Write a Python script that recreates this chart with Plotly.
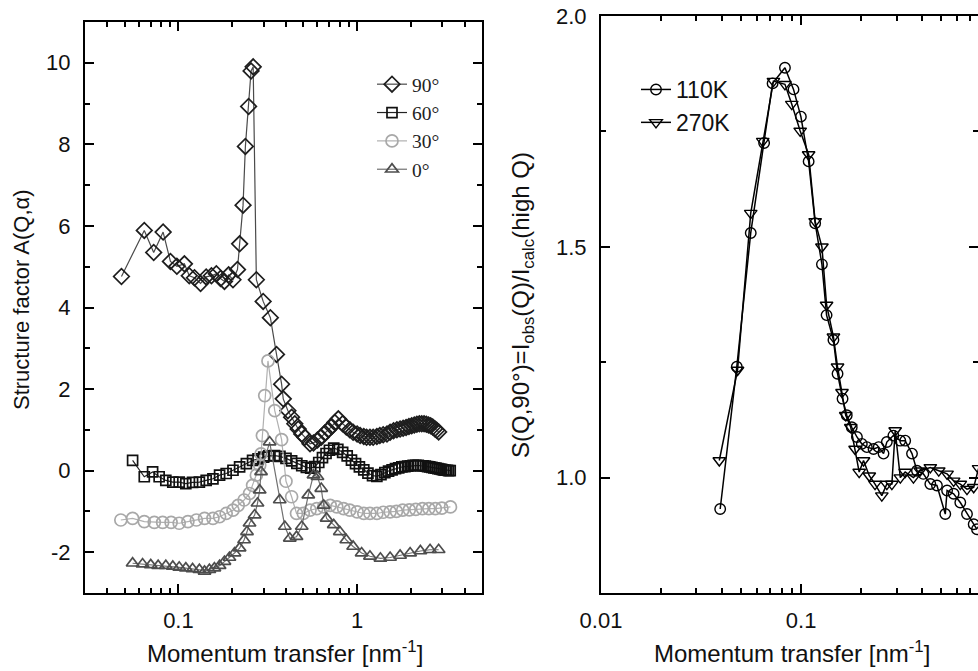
import numpy as np
import plotly.graph_objects as go

# ---------------- Left panel data: Structure factor A(Q, alpha) ----------------
q90 = [0.048, 0.0644, 0.0727, 0.0821, 0.0902, 0.098, 0.108, 0.115, 0.123, 0.133, 0.143,
       0.153, 0.163, 0.172, 0.181, 0.191, 0.202, 0.214, 0.220, 0.230, 0.237, 0.247, 0.255,
       0.262, 0.273, 0.298, 0.327, 0.354, 0.378, 0.386, 0.41, 0.43, 0.448, 0.468, 0.49,
       0.51, 0.545, 0.57, 0.60, 0.63, 0.66, 0.69, 0.72, 0.75, 0.785, 0.83, 0.87, 0.91,
       0.95, 1.0, 1.04, 1.09, 1.13, 1.18, 1.23, 1.29, 1.34, 1.40, 1.47, 1.53, 1.60, 1.67,
       1.74, 1.81, 1.88, 1.95, 2.02, 2.09, 2.16, 2.23, 2.30, 2.37, 2.44, 2.51, 2.58, 2.65,
       2.72, 2.79, 2.86]
a90 = [4.76, 5.89, 5.35, 5.85, 5.13, 5.01, 5.07, 4.78, 4.73, 4.59, 4.75,
       4.78, 4.83, 4.71, 4.64, 4.80, 4.68, 4.93, 5.56, 6.51, 7.95, 8.93, 9.80,
       9.90, 4.68, 4.15, 3.75, 2.85, 2.12, 1.76, 1.47, 1.31, 1.15, 1.02, 0.90,
       0.82, 0.66, 0.68, 0.75, 0.82, 0.92, 1.00, 1.08, 1.18, 1.27, 1.15, 1.07, 1.00,
       0.94, 0.90, 0.86, 0.84, 0.82, 0.82, 0.82, 0.84, 0.86, 0.88, 0.90, 0.94, 0.98, 1.00,
       1.02, 1.04, 1.06, 1.08, 1.10, 1.12, 1.14, 1.15, 1.15, 1.15, 1.14, 1.12, 1.10, 1.07,
       1.03, 0.99, 0.95]

q60 = [0.0554, 0.0644, 0.0717, 0.078, 0.085, 0.093, 0.101, 0.11, 0.12, 0.131, 0.143,
       0.156, 0.17, 0.185, 0.202, 0.22, 0.24, 0.26, 0.279, 0.30, 0.32, 0.345, 0.37, 0.40,
       0.43, 0.46, 0.49, 0.52, 0.55, 0.58, 0.61, 0.64, 0.67, 0.70, 0.74, 0.78, 0.83, 0.88,
       0.93, 0.98, 1.03, 1.09, 1.15, 1.22, 1.29, 1.36, 1.43, 1.50, 1.57, 1.64, 1.71, 1.78,
       1.85, 1.92, 1.99, 2.06, 2.13, 2.20, 2.27, 2.34, 2.41, 2.48, 2.55, 2.62, 2.69, 2.76,
       2.83, 2.90, 2.97, 3.04, 3.11, 3.18, 3.25, 3.32]
a60 = [0.25, -0.15, -0.03, -0.15, -0.24, -0.28, -0.28, -0.32, -0.29, -0.28, -0.24,
       -0.20, -0.11, -0.07, 0.01, 0.09, 0.17, 0.25, 0.29, 0.33, 0.36, 0.37, 0.35, 0.30,
       0.24, 0.18, 0.12, 0.08, 0.06, 0.10, 0.20, 0.32, 0.42, 0.50, 0.55, 0.52, 0.45, 0.36,
       0.26, 0.17, 0.09, 0.02, -0.06, -0.12, -0.14, -0.10, -0.05, -0.01, 0.02, 0.05, 0.07, 0.09,
       0.10, 0.11, 0.12, 0.13, 0.13, 0.13, 0.12, 0.12, 0.11, 0.10, 0.09, 0.08, 0.07, 0.06,
       0.05, 0.04, 0.03, 0.02, 0.01, 0.01, 0.0, 0.0]

q30 = [0.0476, 0.0554, 0.0644, 0.0733, 0.0816, 0.091, 0.101, 0.113, 0.126, 0.14, 0.156,
       0.17, 0.185, 0.202, 0.216, 0.233, 0.25, 0.26, 0.273, 0.285, 0.29, 0.295, 0.304,
       0.317, 0.346, 0.378, 0.40, 0.43, 0.458, 0.50, 0.545, 0.595, 0.65, 0.707, 0.77,
       0.84, 0.91, 1.0, 1.09, 1.18, 1.29, 1.40, 1.53, 1.66, 1.80, 1.96, 2.13, 2.32, 2.52,
       2.74, 2.98, 3.33]
a30 = [-1.21, -1.17, -1.25, -1.27, -1.27, -1.27, -1.29, -1.25, -1.21, -1.17, -1.17,
       -1.13, -1.05, -0.97, -0.85, -0.72, -0.56, -0.36, -0.11, 0.13, 0.41, 0.86, 1.84,
       2.69, 1.47, 0.76, -0.26, -0.64, -1.05, -1.05, -0.97, -0.93, -0.89, -0.85, -0.89,
       -0.93, -0.97, -1.01, -1.05, -1.05, -1.05, -1.02, -1.01, -1.00, -0.97, -0.96, -0.95,
       -0.93, -0.93, -0.93, -0.92, -0.89]

q0 = [0.0554, 0.063, 0.070, 0.077, 0.085, 0.093, 0.101, 0.11, 0.12, 0.131, 0.14, 0.149,
      0.159, 0.17, 0.181, 0.193, 0.206, 0.22, 0.233, 0.242, 0.25, 0.267, 0.277, 0.285,
      0.29, 0.324, 0.369, 0.394, 0.42, 0.458, 0.49, 0.533, 0.57, 0.60, 0.63, 0.65, 0.675,
      0.74, 0.80, 0.87, 0.95, 1.06, 1.18, 1.35, 1.53, 1.74, 1.98, 2.26, 2.56, 2.86]
a0 = [-2.27, -2.29, -2.31, -2.33, -2.33, -2.35, -2.37, -2.39, -2.41, -2.43, -2.47, -2.43,
      -2.39, -2.33, -2.23, -2.13, -2.02, -1.90, -1.70, -1.50, -1.29, -1.09, -0.80, -0.48,
      -0.03, 0.70, -0.72, -1.37, -1.66, -1.62, -1.37, -0.60, -0.11, -0.15, -0.44, -0.85, -1.17,
      -1.33, -1.50, -1.70, -1.86, -2.02, -2.10, -2.15, -2.13, -2.08, -2.02, -1.97, -1.94, -1.94]

# ---------------- Right panel data: S(Q,90deg) ----------------
q110 = [0.0394, 0.0477, 0.056, 0.0653, 0.072, 0.083, 0.0916, 0.0997, 0.109, 0.1175,
        0.127, 0.134, 0.145, 0.152, 0.161, 0.169, 0.179, 0.19, 0.201, 0.213, 0.23, 0.244,
        0.258, 0.268, 0.289, 0.313, 0.331, 0.358, 0.379, 0.408, 0.442, 0.477, 0.525, 0.536,
        0.578, 0.624, 0.674, 0.728, 0.756]
s110 = [0.932, 1.24, 1.53, 1.725, 1.854, 1.888, 1.841, 1.782, 1.685, 1.551,
        1.462, 1.352, 1.298, 1.225, 1.171, 1.135, 1.109, 1.088, 1.073, 1.066, 1.062, 1.066,
        1.052, 1.077, 1.091, 1.08, 1.08, 1.052, 1.015, 1.008, 0.986, 0.983, 0.921, 0.972,
        0.965, 0.946, 0.921, 0.899, 0.888]

q270 = [0.039, 0.0481, 0.056, 0.0643, 0.0727, 0.083, 0.0898, 0.0989, 0.109, 0.1175,
        0.127, 0.134, 0.145, 0.152, 0.16, 0.167, 0.177, 0.186, 0.195, 0.205, 0.219, 0.234,
        0.253, 0.268, 0.284, 0.295, 0.313, 0.331, 0.364, 0.393, 0.442, 0.487, 0.536, 0.578,
        0.624, 0.674, 0.728, 0.77]
s270 = [1.037, 1.233, 1.573, 1.729, 1.859, 1.852, 1.809, 1.751, 1.70, 1.555,
        1.50, 1.374, 1.305, 1.24, 1.185, 1.135, 1.109, 1.062, 1.012, 1.037, 1.004, 0.986,
        0.961, 0.986, 0.986, 1.102, 1.0, 1.012, 1.0, 1.015, 1.022, 1.015, 1.008, 0.993,
        0.986, 0.975, 0.979, 1.02]

left_labels = ["90°", "60°", "30°", "0°"]
right_labels = ["110K", "270K"]
left_yticks = [-2, 0, 2, 4, 6, 8, 10]
left_yticktext = ["-2", "0", "2", "4", "6", "8", "10"]

W, H = 978, 671
fig = go.Figure()

left_series = [
    (q90, a90, left_labels[0], "diamond-open", 12, "#1e1e1e", "#4a4a4a"),
    (q60, a60, left_labels[1], "square-open", 10, "#111111", "#222222"),
    (q30, a30, left_labels[2], "circle-open", 12, "#a8a8a8", "#b0b0b0"),
    (q0, a0, left_labels[3], "triangle-up-open", 11, "#4d4d4d", "#707070"),
]
for qx, ay, name, sym, sz, mc, lc in left_series:
    fig.add_trace(go.Scatter(
        x=qx, y=ay, name=name, mode="lines+markers",
        line=dict(color=lc, width=1.2),
        marker=dict(symbol=sym, size=sz, color=mc, line=dict(width=1.7, color=mc)),
        xaxis="x", yaxis="y", legend="legend"))

right_series = [
    (q110, s110, right_labels[0], "circle-open", 10.5),
    (q270, s270, right_labels[1], "triangle-down-open", 11),
]
for qx, sy, name, sym, sz in right_series:
    fig.add_trace(go.Scatter(
        x=qx, y=sy, name=name, mode="lines+markers",
        line=dict(color="#000000", width=1.5),
        marker=dict(symbol=sym, size=sz, color="#000000", line=dict(width=1.4, color="#000000")),
        xaxis="x2", yaxis="y2", legend="legend2"))

tickfont = dict(family="Arial, Liberation Sans", size=22, color="#111")
common = dict(showline=True, linewidth=2.2, linecolor="#000", mirror="ticks",
              ticks="inside", ticklen=9, tickwidth=2, tickcolor="#000", automargin=False,
              showgrid=False, zeroline=False, tickfont=tickfont)

minor_left_x = [0.04, 0.05, 0.06, 0.07, 0.08, 0.09, 0.2, 0.3, 0.4, 0.5, 0.6, 0.7, 0.8, 0.9,
                2, 3, 4, 5]
minor_right_x = [0.02, 0.03, 0.04, 0.05, 0.06, 0.07, 0.08, 0.09, 0.2, 0.3, 0.4, 0.5, 0.6, 0.7]

fig.update_layout(
    width=W, height=H, margin=dict(l=0, r=0, t=0, b=0, autoexpand=False),
    paper_bgcolor="white", plot_bgcolor="white",
    xaxis=dict(type="log", range=[np.log10(0.03), np.log10(5)], domain=[85 / W, 482 / W],
               anchor="y", tickmode="array", tickvals=[0.1, 1], ticktext=["0.1", "1"],
               minor=dict(tickmode="array", tickvals=minor_left_x, ticks="inside",
                          ticklen=5, tickwidth=1.5, tickcolor="#000"),
               ticklabelstandoff=6, **common),
    yaxis=dict(range=[-3, 11], domain=[1 - 593 / H, 1 - 22 / H], anchor="x",
               tickmode="array", tickvals=left_yticks, ticktext=left_yticktext,
               minor=dict(tickmode="array", tickvals=[-3, -1, 1, 3, 5, 7, 9, 11], ticks="inside",
                          ticklen=5, tickwidth=1.5, tickcolor="#000"),
               ticklabelstandoff=8, **common),
    xaxis2=dict(type="log", range=[-2, np.log10(0.765)], domain=[601 / W, 1.0],
                anchor="y2", tickmode="array", tickvals=[0.01, 0.1], ticktext=["0.01", "0.1"],
                minor=dict(tickmode="array", tickvals=minor_right_x, ticks="inside",
                           ticklen=5, tickwidth=1.5, tickcolor="#000"),
                ticklabelstandoff=6, **common),
    yaxis2=dict(range=[0.75, 2.0], domain=[1 - 593 / H, 1 - 16 / H], anchor="x2",
                tickmode="array", tickvals=[1.0, 1.5, 2.0], ticktext=["1.0", "1.5", "2.0"],
                minor=dict(tickmode="array", tickvals=[1.25, 1.75], ticks="inside",
                           ticklen=5, tickwidth=1.5, tickcolor="#000"),
                ticklabelstandoff=8, **common),
    legend=dict(x=372 / W, y=1 - 65 / H, xanchor="left", yanchor="top",
                bgcolor="rgba(0,0,0,0)", font=dict(family="Liberation Serif, Times New Roman",
                                                   size=19.5, color="#222"),
                tracegroupgap=0, itemwidth=30),
    legend2=dict(x=636 / W, y=1 - 68 / H, xanchor="left", yanchor="top",
                 bgcolor="rgba(0,0,0,0)", font=dict(family="Arial, Liberation Sans",
                                                    size=23, color="#111"),
                 tracegroupgap=0, itemwidth=30),
    showlegend=True,
)

title_font = dict(family="Arial, Liberation Sans", size=24, color="#111")
fig.add_annotation(text="Momentum transfer [nm<sup>-1</sup>]", xref="paper", yref="paper",
                   x=285 / W, y=1 - 652 / H, showarrow=False, font=title_font,
                   xanchor="center", yanchor="middle")
fig.add_annotation(text="Momentum transfer [nm<sup>-1</sup>]", xref="paper", yref="paper",
                   x=792 / W, y=1 - 652 / H, showarrow=False, font=title_font,
                   xanchor="center", yanchor="middle")
fig.add_annotation(text="Structure factor A(Q,α)", xref="paper", yref="paper",
                   x=21 / W, y=1 - 300 / H, showarrow=False,
                   font=dict(family="Arial, Liberation Sans", size=22, color="#111"),
                   textangle=-90, xanchor="center", yanchor="middle")
fig.add_annotation(text="S(Q,90°)=I<sub>obs</sub>(Q)/I<sub>calc</sub>(high Q)", xref="paper",
                   yref="paper", x=522 / W, y=1 - 305 / H, showarrow=False, font=title_font,
                   textangle=-90, xanchor="center", yanchor="middle")

fig.write_html("out.html")
